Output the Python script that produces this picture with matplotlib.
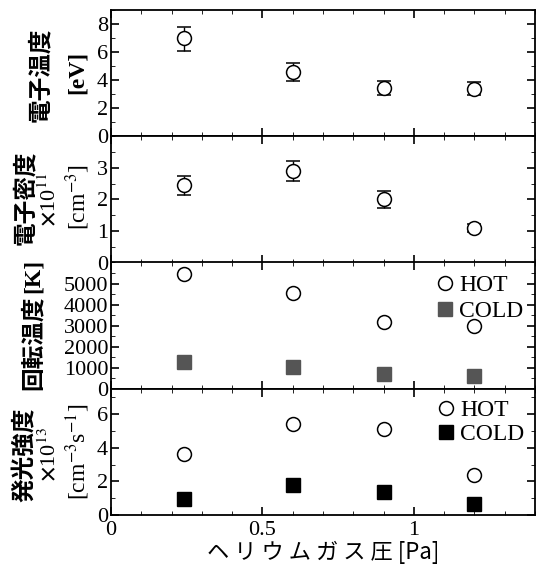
import matplotlib
matplotlib.use("Agg")
import matplotlib.pyplot as plt
from matplotlib.ticker import MultipleLocator

# data
pressure = [0.24, 0.60, 0.90, 1.20]

te = [7.0, 4.6, 3.45, 3.4]
te_lo = [0.9, 0.65, 0.5, 0.45]
te_hi = [0.8, 0.65, 0.5, 0.45]

ne = [2.45, 2.9, 2.0, 1.1]
ne_err = [0.3, 0.33, 0.27, 0.12]

trot_hot = [5450, 4550, 3150, 3000]
trot_cold = [1250, 1050, 720, 620]

emis_hot = [3.65, 5.4, 5.1, 2.4]
emis_cold = [0.95, 1.8, 1.38, 0.65]

te_ticks = [0, 2, 4, 6, 8]
ne_ticks = [0, 1, 2, 3]
trot_ticks = [0, 1000, 2000, 3000, 4000, 5000]
emis_ticks = [0, 2, 4, 6]

serif = ['Liberation Serif', 'DejaVu Serif']
jp = ['Noto Sans CJK JP', 'DejaVu Sans']
plt.rcParams['font.family'] = serif
plt.rcParams['mathtext.fontset'] = 'stix'

fig = plt.figure(figsize=(5.43, 5.64), dpi=100)
L, R, B, T = 111 / 543, 535 / 543, 1 - 515 / 564, 1 - 10 / 564
h = (T - B) / 4
axes = [fig.add_axes([L, T - (i + 1) * h, R - L, h]) for i in range(4)]

for ax in axes:
    ax.set_xlim(0, 1.4)
    ax.xaxis.set_major_locator(MultipleLocator(0.5))
    ax.xaxis.set_minor_locator(MultipleLocator(0.1))
    ax.tick_params(which='both', direction='in', top=True, right=True,
                   labelsize=16)
    ax.tick_params(axis='y', pad=2)
    ax.tick_params(axis='x', pad=4)
    ax.tick_params(which='major', length=6, width=1.2)
    ax.tick_params(which='minor', length=3)
    for s in ax.spines.values():
        s.set_linewidth(1.3)
    if ax is not axes[-1]:
        ax.tick_params(labelbottom=False)

ax1, ax2, ax3, ax4 = axes
circ = dict(marker='o', ms=10, mfc='white', mec='black', mew=1.1, ls='none')

ax1.errorbar(pressure, te, yerr=[te_lo, te_hi], capsize=5, ecolor='black',
             elinewidth=1, **circ)
ax1.set_ylim(0, 9)
ax1.set_yticks(te_ticks)
ax1.yaxis.set_minor_locator(MultipleLocator(1))

ax2.errorbar(pressure, ne, yerr=ne_err, capsize=5, ecolor='black',
             elinewidth=1, **circ)
ax2.set_ylim(0, 4)
ax2.set_yticks(ne_ticks)
ax2.yaxis.set_minor_locator(MultipleLocator(0.5))

ax3.plot(pressure, trot_hot, label='HOT', **circ)
ax3.plot(pressure, trot_cold, marker='s', ms=10, color='#555555', ls='none',
         label='COLD')
ax3.set_ylim(0, 6000)
ax3.set_yticks(trot_ticks)
ax3.yaxis.set_minor_locator(MultipleLocator(500))
ax3.legend(loc='upper right', frameon=False, fontsize=17, handletextpad=0.1,
           borderaxespad=0.1, labelspacing=0.2, handlelength=1.0)

ax4.plot(pressure, emis_hot, label='HOT', **circ)
ax4.plot(pressure, emis_cold, marker='s', ms=10, color='black', ls='none',
         label='COLD')
ax4.set_ylim(0, 7.5)
ax4.set_yticks(emis_ticks)
ax4.yaxis.set_minor_locator(MultipleLocator(1))
ax4.set_xticks([0, 0.5, 1])
ax4.set_xticklabels(['0', '0.5', '1'])
ax4.legend(loc='upper right', frameon=False, fontsize=17, handletextpad=0.1,
           borderaxespad=0.05, labelspacing=0.1, handlelength=1.0)

ax4.set_xlabel('ヘ リ ウ ム ガ ス 圧 [Pa]', family=jp, fontsize=16, labelpad=1)

# y labels, line by line
def ylab(x, y, s, fam, size=17, weight='normal'):
    fig.text(x / 543, 1 - y / 564, s, rotation=90, ha='center', va='center',
             family=fam, fontsize=size, fontweight=weight)

ylab(40, 75, '電子温度', jp, 17, 'bold')
ylab(77, 72, '[eV]', serif, 17, 'bold')

ylab(25, 198, '電子密度', jp, 17, 'bold')
ylab(50, 200, r'$\mathbf{\times}$' + '10$^{11}$', serif, 16)
ylab(78, 197, '[cm$^{-3}$]', serif, 17)

ylab(33, 343, '回転温度', jp, 17, 'bold')
ylab(33, 276, '[K]', serif, 17, 'bold')

ylab(25, 455, '発光強度', jp, 17, 'bold')
ylab(50, 455, r'$\mathbf{\times}$' + '10$^{13}$', serif, 16)
ylab(78, 452, '[cm$^{-3}$s$^{-1}$]', serif, 17)

fig.savefig('out.png', dpi=100)
